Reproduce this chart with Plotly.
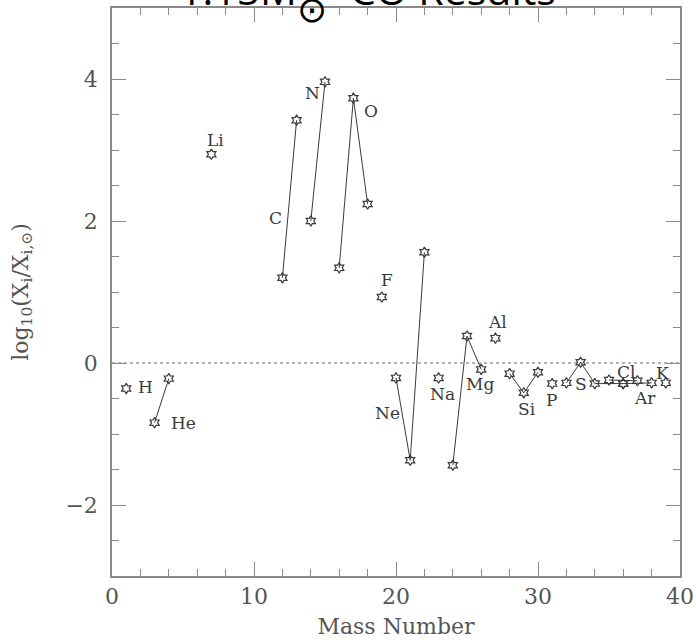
import plotly.graph_objects as go

# ---------------- data ----------------
elements = ["H", "He", "Li", "C", "N", "O", "F", "Ne", "Na", "Mg", "Al",
            "Si", "P", "S", "Cl", "Ar", "K"]
mass_numbers = [[1], [3, 4], [7], [12, 13], [14, 15], [16, 17, 18], [19],
                [20, 21, 22], [23], [24, 25, 26], [27], [28, 29, 30], [31],
                [32, 33, 34, 36], [35, 37], [36, 38], [39]]
log_ratios = [[-0.36], [-0.84, -0.22], [2.94], [1.20, 3.42], [2.00, 3.96],
              [1.34, 3.73, 2.24], [0.93], [-0.21, -1.37, 1.56], [-0.21],
              [-1.44, 0.38, -0.09], [0.35], [-0.15, -0.42, -0.13], [-0.29],
              [-0.28, 0.01, -0.29, -0.29], [-0.24, -0.25], [-0.29, -0.28],
              [-0.28]]
x_ticks = [0, 10, 20, 30, 40]
y_ticks = [-2, 0, 2, 4]

# ---------------- layout helpers (label placement) ----------------
label_pos = {
    "H": (2.36, -0.34), "He": (5.06, -0.84), "Li": (7.29, 3.14),
    "C": (11.51, 2.04), "N": (14.1, 3.80), "O": (18.27, 3.55),
    "F": (19.38, 1.17), "Ne": (19.38, -0.70), "Na": (23.25, -0.44),
    "Mg": (25.9, -0.30), "Al": (27.13, 0.58), "Si": (29.26, -0.65),
    "P": (30.95, -0.52), "S": (33.0, -0.30), "Cl": (36.23, -0.13),
    "Ar": (37.5, -0.49), "K": (38.77, -0.14),
}

INK = "#3a3a3a"
AXIS = "#8a8a8a"
SERIF = "DejaVu Serif"

L, R, T, B, W, H = 112, 16, 8, 68, 696, 644
PW, PH = W - L - R, H - T - B


def px_x(p):
    return (p - L) / PW


def px_y(p):
    return 1 + (T - p) / PH


fig = go.Figure()

for el, A, v in zip(elements, mass_numbers, log_ratios):
    fig.add_trace(go.Scatter(
        x=A, y=v, mode="lines+markers" if len(A) > 1 else "markers",
        line=dict(color=INK, width=1),
        marker=dict(symbol="hexagram-open", size=8, color=INK,
                    line=dict(color=INK, width=1.2)),
        showlegend=False, hoverinfo="x+y", name=el,
    ))

for el in elements:
    lx, ly = label_pos[el]
    fig.add_annotation(x=lx, y=ly, text=el, showarrow=False,
                       font=dict(family=SERIF, size=17, color=INK),
                       xanchor="center", yanchor="middle")

# dotted zero line
fig.add_shape(type="line", xref="x", yref="y", x0=x_ticks[0], x1=x_ticks[-1],
              y0=0, y1=0, line=dict(color="#9a9a9a", width=1.5, dash="dot"),
              layer="below")

# title (cut off at top as in the reference)
title_font = dict(family="Open Sans", size=41, color="black")
fig.add_annotation(xref="paper", yref="paper", x=px_x(299), y=px_y(19),
                   xanchor="right", yanchor="bottom", text="1.15M",
                   showarrow=False, font=title_font)
fig.add_annotation(xref="paper", yref="paper", x=px_x(312), y=px_y(10),
                   xanchor="center", yanchor="middle", text="⊙",
                   showarrow=False,
                   font=dict(family="DejaVu Sans", size=36, color="black"))
fig.add_annotation(xref="paper", yref="paper", x=px_x(348), y=px_y(19),
                   xanchor="left", yanchor="bottom", text="CO Results",
                   showarrow=False, font=title_font)

axis_common = dict(
    showline=True, linecolor=AXIS, linewidth=1.5, mirror="ticks",
    ticks="inside", ticklen=14, tickwidth=1.2, tickcolor=AXIS,
    showgrid=False, zeroline=False, automargin=False,
    tickfont=dict(family=SERIF, size=22, color="#555555"),
)

fig.update_xaxes(range=[0, 40], tickvals=x_ticks, ticklabelstandoff=0,
                 minor=dict(ticks="inside", ticklen=7, dtick=2,
                            tickcolor=AXIS, tickwidth=1.2, showgrid=False),
                 title=dict(text="Mass Number", standoff=10,
                            font=dict(family=SERIF, size=22, color="#555555")),
                 **axis_common)
fig.update_yaxes(range=[-3, 5], tickvals=y_ticks, ticklabelstandoff=8,
                 ticktext=["\u22122", "0", "2", "4"],
                 minor=dict(ticks="inside", ticklen=7, dtick=0.5, tick0=0,
                            tickcolor=AXIS, tickwidth=1.2, showgrid=False),
                 title=dict(text="log<sub>10</sub>(X<sub>i</sub>/X<sub>i,⊙</sub>)",
                            standoff=31,
                            font=dict(family=SERIF, size=22, color="#555555")),
                 **axis_common)

fig.update_layout(
    width=W, height=H,
    margin=dict(l=L, r=R, t=T, b=B),
    paper_bgcolor="white", plot_bgcolor="white",
)

fig.write_html("out.html")
